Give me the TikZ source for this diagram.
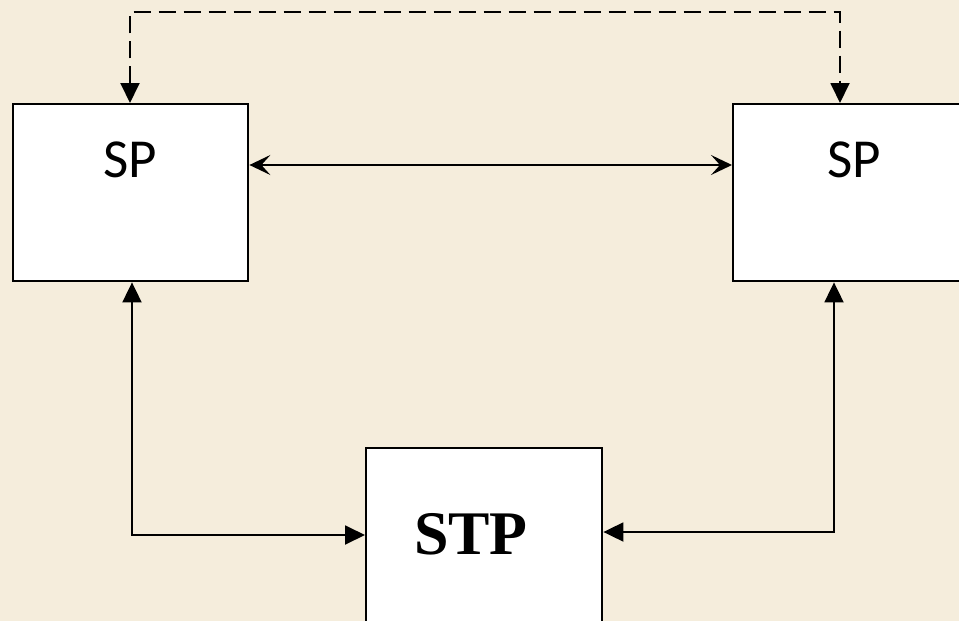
\documentclass[tikz,border=0pt]{standalone}
\usepackage{fontspec}
\setmainfont{Liberation Serif}
\newfontfamily\spfont{Carlito}
\usetikzlibrary{arrows.meta,calc}
\definecolor{bg}{RGB}{245,237,220}
\tikzset{
  mytip/.tip={Triangle[length=20pt,width=19pt]},
  mybarb/.tip={Stealth[length=21pt,width=20pt,inset=9pt]}
}
\begin{document}
\begin{tikzpicture}[x=1pt,y=-1pt,
  box/.style={draw=black,fill=white,line width=2.4pt,inner sep=0pt,anchor=north west},
  conn/.style={line width=1.9pt,line join=miter},
  splabel/.style={font=\spfont\fontsize{55}{60}\selectfont,inner sep=0pt},
  stplabel/.style={font=\bfseries\fontsize{62}{66}\selectfont,inner sep=0pt}]
\useasboundingbox (0,0) rectangle (959,621);
\clip (0,0) rectangle (959,621);
\fill[bg] (0,0) rectangle (959,621);
% boxes
\node[box,minimum width=235pt,minimum height=177pt] (spL) at (12,103) {};
\node[box,minimum width=260pt,minimum height=177pt] (spR) at (732,103) {};
\node[box,minimum width=236pt,minimum height=220pt] (stp) at (365,447) {};
% labels
\node[splabel] (tL) at (130,160) {SP};
\node[splabel] (tR) at (854,160) {SP};
\node[stplabel] (tS) at (471,534) {STP};
% connectors
\draw[conn,mybarb-mybarb] ($(spL.north east)+(0,62)$) -- ($(spR.north west)+(0,62)$);
\draw[conn,dash pattern=on 17pt off 8pt,mytip-mytip]
  ($(spL.north west)+(118,0)$) -- ++(0,-91) -| ($(spR.north west)+(108,0)$);
\draw[conn,mytip-mytip] ($(spL.south west)+(120,0)$) |- ($(stp.north west)+(0,88)$);
\draw[conn,mytip-mytip] ($(spR.south west)+(102,0)$) |- ($(stp.north east)+(0,85)$);
\end{tikzpicture}
\end{document}
